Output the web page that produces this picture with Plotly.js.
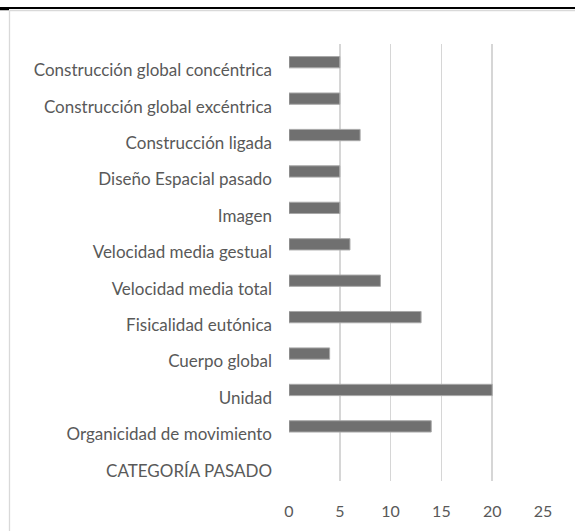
<!DOCTYPE html>
<html>
<head>
<meta charset="utf-8">
<script src="https://cdn.plot.ly/plotly-3.0.1.min.js"></script>
<style>
html,body{margin:0;padding:0;background:#fff;}
#chart{width:575px;height:531px;}
</style>
</head>
<body>
<div id="chart"></div>
<script>
// Categories listed bottom-to-top (Excel order)
const categories = [
  "CATEGORÍA PASADO",
  "Organicidad de movimiento",
  "Unidad",
  "Cuerpo global",
  "Fisicalidad eutónica",
  "Velocidad media total",
  "Velocidad media gestual",
  "Imagen",
  "Diseño Espacial pasado",
  "Construcción ligada",
  "Construcción global excéntrica",
  "Construcción global concéntrica"
];
const values = [null, 14, 20, 4, 13, 9, 6, 5, 5, 7, 5, 5];
const xTicks = [0, 5, 10, 15, 20, 25];

const W = 575, H = 531;
const m = {l: 289, r: 32, t: 44, b: 50};
const pw = W - m.l - m.r, ph = H - m.t - m.b;
function px(x){ return (x - m.l) / pw; }
function py(y){ return (H - m.b - y) / ph; }

const trace = {
  type: 'bar',
  orientation: 'h',
  y: categories,
  x: values,
  width: 0.31,
  marker: {color: '#707070', line: {color: '#a8a8a8', width: 1}},
  hoverinfo: 'x+y'
};

const font = "Lato, 'Noto Sans', sans-serif";
const layout = {
  width: W, height: H,
  margin: m,
  paper_bgcolor: '#fff',
  plot_bgcolor: '#fff',
  showlegend: false,
  xaxis: {
    range: [0, 25],
    tickmode: 'array',
    tickvals: xTicks,
    ticktext: xTicks.map(String),
    showgrid: true,
    gridcolor: '#d6d6d6',
    gridwidth: 1.5,
    zeroline: false,
    showline: false,
    ticks: 'outside',
    ticklen: 16,
    tickcolor: 'rgba(0,0,0,0)',
    tickfont: {family: font, size: 16, color: '#595959'},
    fixedrange: true
  },
  yaxis: {
    type: 'category',
    categoryorder: 'array',
    categoryarray: categories,
    range: [-0.5, categories.length - 0.5],
    showgrid: false,
    zeroline: false,
    showline: false,
    ticks: '',
    ticklabelstandoff: 16,
    ticklabelshift: 8,
    tickfont: {family: font, size: 17, color: '#595959'},
    fixedrange: true
  },
  shapes: [
    {type: 'line', xref: 'paper', yref: 'paper', x0: px(0), x1: px(W), y0: py(8), y1: py(8),
     line: {color: '#000', width: 2}},
    {type: 'line', xref: 'paper', yref: 'paper', x0: px(0), x1: px(9), y0: py(9.5), y1: py(9.5),
     line: {color: '#000', width: 1.5}},
    {type: 'line', xref: 'paper', yref: 'paper', x0: px(9.5), x1: px(W), y0: py(10.5), y1: py(10.5),
     line: {color: '#d9d9d9', width: 1.3}},
    {type: 'line', xref: 'paper', yref: 'paper', x0: px(9.5), x1: px(9.5), y0: py(10.5), y1: py(H),
     line: {color: '#d9d9d9', width: 1.3}}
  ]
};

Plotly.newPlot('chart', [trace], layout, {displayModeBar: false, staticPlot: true});
</script>
</body>
</html>
